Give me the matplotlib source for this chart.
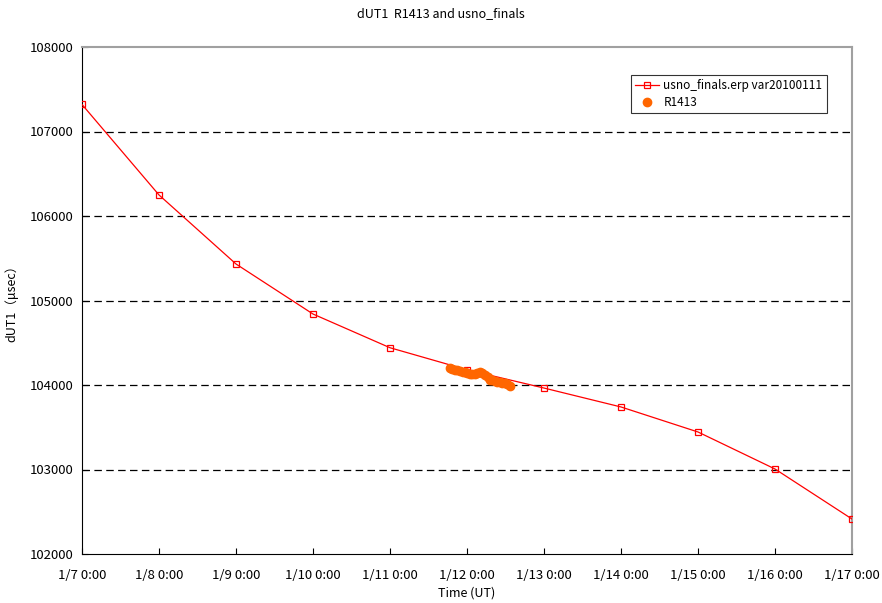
import datetime as dt
import matplotlib
matplotlib.use("Agg")
import matplotlib.pyplot as plt
import matplotlib.dates as mdates
from matplotlib.ticker import FuncFormatter, MultipleLocator

plt.rcParams['font.family'] = ['Noto Sans CJK JP', 'DejaVu Sans']

# usno_finals daily values (1/7 .. 1/17 0:00 UT), micro-seconds
usno_days = [7, 8, 9, 10, 11, 12, 13, 14, 15, 16, 17]
usno_dut1 = [107320, 106249, 105432, 104840, 104441, 104180,
             103964, 103740, 103444, 103006, 102414]

# R1413 session (hours from 1/11 0:00 UT)
r_hours = [18.6, 19.4, 20.2, 21.0, 21.8, 22.6, 23.3, 24.1, 24.9, 25.7,
           26.4, 27.2, 28.0, 28.8, 29.6, 30.4, 31.1, 31.9, 32.7, 33.5,
           34.3, 35.0, 35.8, 36.6, 37.4]
r_dut1 = [104201, 104192, 104183, 104175, 104166, 104157, 104148, 104142,
          104136, 104134, 104136, 104142, 104148, 104138, 104118, 104092,
          104065, 104055, 104047, 104041, 104036, 104027, 104018, 104006,
          103994]

usno_t = [dt.datetime(2010, 1, d) for d in usno_days]
r_t = [dt.datetime(2010, 1, 11) + dt.timedelta(hours=h) for h in r_hours]

fig = plt.figure(figsize=(8.82, 6.03), dpi=100)
ax = fig.add_axes([82 / 882, 1 - 554 / 603, 770 / 882, 507 / 603])

for y in [103000, 104000, 105000, 106000, 107000]:
    ax.axhline(y, color='black', lw=0.9, ls=(0, (6, 3.5)), zorder=1)

ax.plot(usno_t, usno_dut1, color='#ff0000', lw=0.9, marker='s', ms=4.5,
        mfc='none', mec='#ff0000', mew=0.9, zorder=3,
        label='usno_finals.erp var20100111')
ax.plot(r_t, r_dut1, ls='none', marker='o', ms=6, color='#ff6600',
        mec='#ff6600', zorder=4, label='R1413')

ax.set_xlim(dt.datetime(2010, 1, 7), dt.datetime(2010, 1, 17))
ax.set_ylim(102000, 108000)
ax.yaxis.set_major_locator(MultipleLocator(1000))
ax.xaxis.set_major_locator(mdates.DayLocator())
ax.xaxis.set_major_formatter(FuncFormatter(
    lambda v, p: (lambda d: f"{d.month}/{d.day} {d.hour}:{d.minute:02d}")(mdates.num2date(v))))

ax.tick_params(axis='both', direction='in', length=4, labelsize=9.5, width=0.8)
ax.tick_params(axis='x', pad=11)
ax.tick_params(axis='y', pad=6)
ax.spines['top'].set_color('#a0a0a0')
ax.spines['right'].set_color('#a0a0a0')
ax.spines['top'].set_linewidth(1.5)
ax.spines['right'].set_linewidth(1.5)

ax.set_xlabel('Time (UT)', fontsize=9, labelpad=3)
ax.set_ylabel('dUT1（μsec）', fontsize=9, labelpad=8)
fig.suptitle('dUT1  R1413 and usno_finals', fontsize=9, y=0.988)

leg = ax.legend(loc='upper left', bbox_to_anchor=(549 / 770, 1 - 28 / 507),
                fontsize=8.5, frameon=True, fancybox=False, edgecolor='black',
                borderpad=0.35, labelspacing=0.35, handlelength=2.0,
                handletextpad=0.4, borderaxespad=0)
leg.get_frame().set_linewidth(0.8)

fig.savefig('out.png', dpi=100, facecolor='white')
